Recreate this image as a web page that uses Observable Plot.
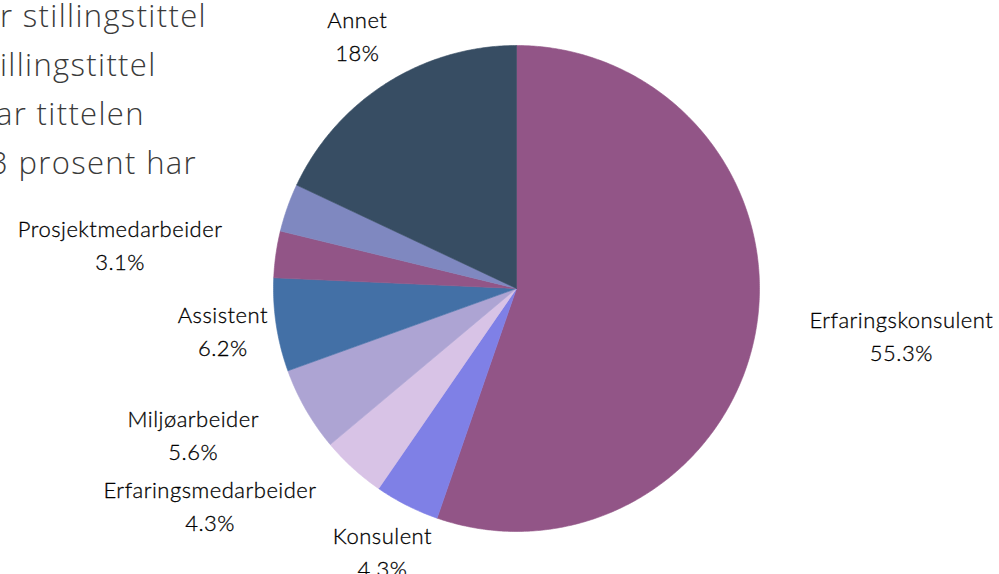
<!DOCTYPE html>
<html><head><meta charset="utf-8">
<script src="https://cdn.jsdelivr.net/npm/d3@7"></script>
<script src="https://cdn.jsdelivr.net/npm/@observablehq/plot@0.6"></script>
<style>
body{margin:0;background:#fff;}
#wrap{position:relative;width:999px;height:574px;overflow:hidden;background:#fff;}
#chart{position:absolute;left:0;top:0;}
#bg{position:absolute;left:0;top:-9px;font-family:"Open Sans";font-weight:300;font-size:31px;letter-spacing:1.35px;color:#3a3a3a;line-height:49px;white-space:nowrap;z-index:2;}
#bg div{position:relative}
</style></head><body>
<div id="wrap"><div id="chart"></div><div id="bg"></div></div>
<script>
// Slices, clockwise from 12 o'clock
const categories = ["Erfaringskonsulent","Konsulent","Erfaringsmedarbeider","Miljøarbeider","Assistent","Prosjektmedarbeider","","Annet"];
const values = [55.3, 4.3, 4.3, 5.6, 6.2, 3.1, 3.2, 18];
const colors = ["#925587","#7f80e6","#d8c3e6","#ada4d3","#4370a6","#925587","#7f88c0","#374d63"];
const introLines = ["r stillingstittel","illingstittel","ar tittelen","3 prosent har"];

// partially clipped intro text (cut off at the left edge)
const shifts = [0, 0, -4, -10];
const bg = document.getElementById("bg");
introLines.forEach((t, i) => {
  const d = document.createElement("div");
  d.textContent = t;
  d.style.left = shifts[i] + "px";
  bg.appendChild(d);
});

const W = 999, H = 574, R = 243, LR = 297;
const fontSize = 22, lineH = 1.5, spacing = 0.5, weight = 300;
const total = d3.sum(values);
let acc = 0;
const slices = values.map((v, i) => {
  const a0 = acc / total * 2 * Math.PI;
  acc += v;
  const a1 = acc / total * 2 * Math.PI;
  return {name: categories[i], value: v, color: colors[i], a0, a1, key: i};
});

// polygon points for each slice
const pts = [];
for (const s of slices) {
  pts.push({key: s.key, color: s.color, x: 0, y: 0});
  const n = Math.max(2, Math.ceil((s.a1 - s.a0) / (Math.PI / 360)));
  for (let k = 0; k <= n; k++) {
    const a = s.a0 + (s.a1 - s.a0) * k / n;
    pts.push({key: s.key, color: s.color, x: R * Math.sin(a), y: R * Math.cos(a)});
  }
  pts.push({key: s.key, color: s.color, x: 0, y: 0});
}

// label placement: centred block; pushed outward if it would hit the pie
const ctx = document.createElement("canvas").getContext("2d");
ctx.font = `${weight} ${fontSize}px Lato`;
const tw = t => ctx.measureText(t).width + spacing * t.length;
const labels = slices.filter(s => s.name).map(s => {
  const m = (s.a0 + s.a1) / 2;
  let x = LR * Math.sin(m);
  const y = LR * Math.cos(m) + 4;
  const text = `${s.name}\n${s.value}%`;
  const w = Math.max(tw(s.name), tw(s.value + "%"));
  const h = fontSize * lineH * 0.8;
  const bx0 = x - w / 2, bx1 = x + w / 2, by0 = y - h, by1 = y + h;
  const nx = Math.max(bx0, Math.min(0, bx1)), ny = Math.max(by0, Math.min(0, by1));
  if (Math.hypot(nx, ny) < R + 4) x += (x > 0 ? 1 : -1) * w / 2;
  return {x, y, text};
});

const plot = Plot.plot({
  width: W, height: H,
  margin: 0,
  x: {domain: [-516, 483], axis: null},
  y: {domain: [-286, 288], axis: null},
  color: {type: "identity"},
  style: {background: "transparent"},
  marks: [
    Plot.line(pts, {x: "x", y: "y", z: "key", fill: "color", stroke: "color", strokeWidth: 0.6, curve: "linear"}),
    Plot.text(labels, {
      x: "x", y: "y", text: "text", textAnchor: "middle", lineAnchor: "middle",
      lineHeight: lineH, fontSize, fontFamily: "Lato", fontWeight: weight, fill: "#000",
      stroke: "#000", strokeWidth: 0.3
    })
  ]
});
d3.select(plot).selectAll("text").style("letter-spacing", spacing + "px");
document.getElementById("chart").appendChild(plot);
</script>
</body></html>
